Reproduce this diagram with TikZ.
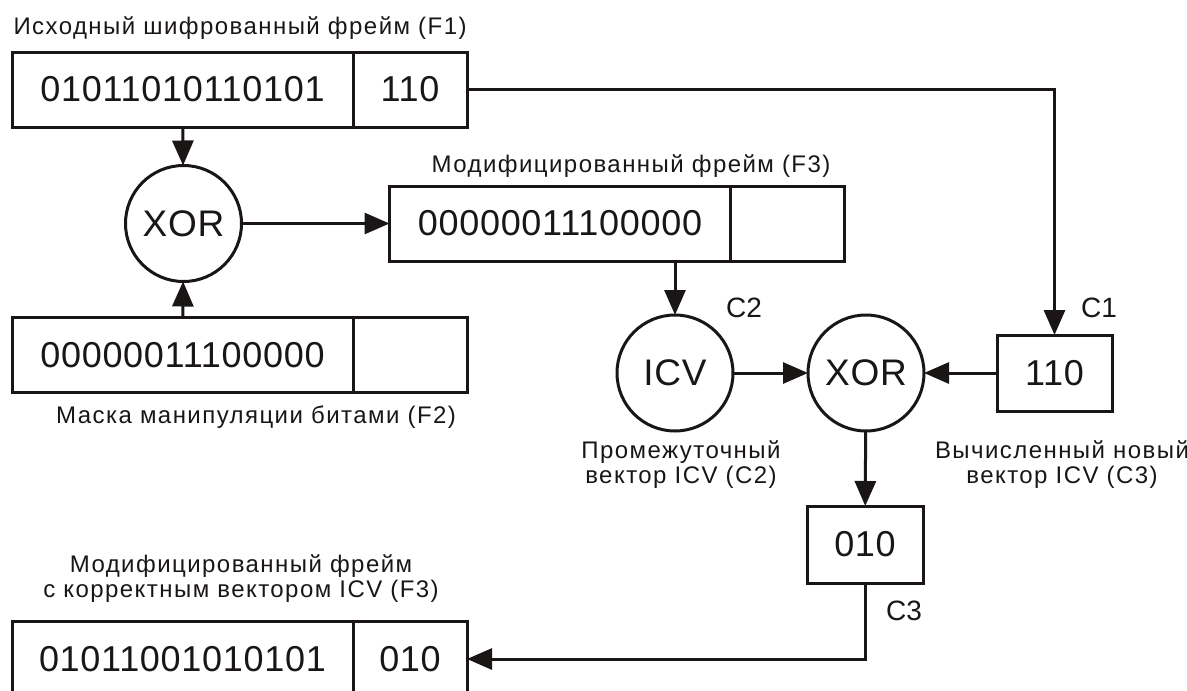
\documentclass[tikz,border=0pt]{standalone}
\usepackage{fontspec}
\setmainfont{Liberation Sans}
\usetikzlibrary{positioning,arrows.meta}
\definecolor{inkBlack}{HTML}{1a1616}
\newfontfamily\spacedfont[LetterSpace=6]{Liberation Sans}
\newfontfamily\digitfont[LetterSpace=2]{Liberation Sans}

\begin{document}
\begin{tikzpicture}[x=1pt,y=-1pt,line width=3pt,color=inkBlack,
  field/.style={draw,rectangle,minimum height=75pt,minimum width=341pt,
    inner sep=0pt,outer sep=0pt,font=\digitfont\fontsize{36}{40}\selectfont},
  icvfield/.style={field,minimum width=114pt},
  op/.style={draw,circle,minimum size=116pt,inner sep=0pt,outer sep=0pt,
    font=\digitfont\fontsize{37}{40}\selectfont},
  caption/.style={inner sep=0pt,align=center,font=\spacedfont\fontsize{24}{25}\selectfont},
  tag/.style={inner sep=0pt,anchor=base,font=\fontsize{28}{30}\selectfont},
  arr/.style={-{Triangle[length=25pt,width=21pt]}}]
\useasboundingbox (0,0) rectangle (1187,691);
\clip (0,0) rectangle (1187,691);

% frames
\node[field] (f1val) at (182.5,89.5) {01011010110101};
\node[icvfield,right=0pt of f1val] (f1icv) {110};
\node[field] (f3val) at (560,223.5) {00000011100000};
\node[icvfield,right=0pt of f3val] (f3icv) {};
\node[field] (f2val) at (182.5,355) {00000011100000};
\node[icvfield,right=0pt of f2val] (f2icv) {};
\node[field] (f4val) at (182.5,659) {01011001010101};
\node[icvfield,right=0pt of f4val] (f4icv) {010};

% operations
\node[op] (xora) at (183.5,223.5) {XOR};
\node[op] (icv) at (675,373) {ICV};
\node[op] (xorb) at (866,373) {XOR};
\node[field,minimum width=115pt,minimum height=76pt] (c1) at (1054.5,373) {110};
\node[field,minimum width=116pt,minimum height=77pt] (res) at (865,544.5) {010};

% captions
\node[caption,anchor=base west] (capf1) at (12,34) {Исходный шифрованный фрейм (F1)};
\node[caption,anchor=base] (capf3) at (631,172) {Модифицированный фрейм (F3)};
\node[caption,anchor=base] (capf2) at (256,423) {Маска манипуляции битами (F2)};
\node[caption,anchor=base] (capc2) at (681,483) {Промежуточный\\вектор ICV (C2)};
\node[caption,anchor=base] (capc3) at (1062,483) {Вычисленный новый\\вектор ICV (C3)};
\node[caption,anchor=base] (capf4) at (241,597) {Модифицированный фрейм\\с корректным вектором ICV (F3)};
\node[tag] (tc2) at (744,317) {C2};
\node[tag] (tc1) at (1099,317) {C1};
\node[tag] (tc3) at (904,620) {C3};

% connectors
\draw[arr] (f1val) -- (xora);
\draw[arr] (f2val) -- (xora);
\draw[arr] (xora) -- (f3val);
\draw[arr] (f3val.south -| icv.north) -- (icv);
\draw[arr] (icv) -- (xorb);
\draw[arr] (c1) -- (xorb);
\draw[arr] (f1icv.east) -| (c1.north);
\draw[arr] (xorb) -- (res);
\draw[arr] (res.south) |- (f4icv.east);
\end{tikzpicture}
\end{document}
